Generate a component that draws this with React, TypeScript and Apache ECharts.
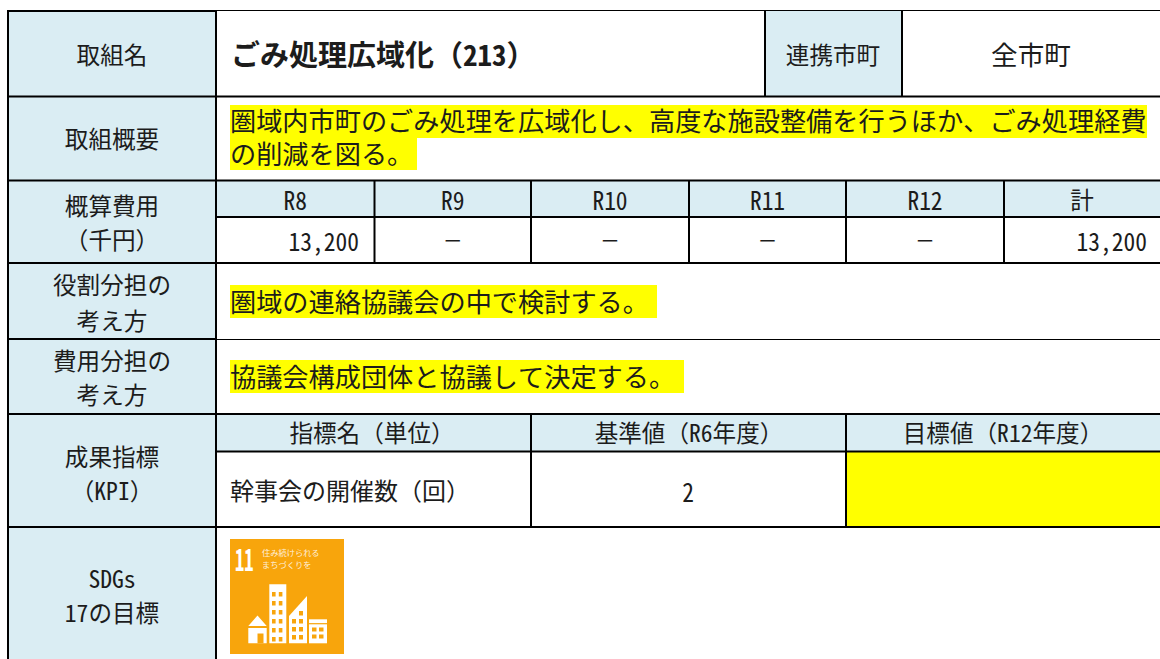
import React, { useEffect, useRef } from "react";
import * as echarts from "echarts";

const FONT = '"Noto Sans Mono CJK JP", "Noto Sans CJK JP", sans-serif';
const INK = "#1c1c1c";
const HEAD = "#daedf3";
const YEL = "#ffff00";
const SDG = "#f8a50c";

const rowLabels = ["取組名", "取組概要"];
const title = "ごみ処理広域化（213）";
const partnerLabel = "連携市町";
const partnerValue = "全市町";
const summaryLines = ["圏域内市町のごみ処理を広域化し、高度な施設整備を行うほか、ごみ処理経費", "の削減を図る。"];
const costLabel = ["概算費用", "（千円）"];
const costYears = ["R8", "R9", "R10", "R11", "R12", "計"];
const costValues = ["13,200", "-", "-", "-", "-", "13,200"];
const roleLabel = ["役割分担の", "考え方"];
const roleText = "圏域の連絡協議会の中で検討する。";
const shareLabel = ["費用分担の", "考え方"];
const shareText = "協議会構成団体と協議して決定する。";
const kpiLabel = ["成果指標", "（KPI）"];
const kpiHeads = ["指標名（単位）", "基準値（R6年度）", "目標値（R12年度）"];
const kpiName = "幹事会の開催数（回）";
const kpiBase = "2";
const sdgLabel = ["SDGs", "17の目標"];
const sdgNum = "11";
const sdgText = ["住み続けられる", "まちづくりを"];

const costCols = [216, 374.5, 531, 689, 846, 1004, 1160];

function t(text: string, x: number, y: number, size: number, o: any = {}) {
  const { align = "center", sx = 1, weight = "normal", fill = INK, opacity } = o;
  return {
    type: "text", x, y, scaleX: sx, z: 10,
    style: { text, fontFamily: FONT, fontSize: size, fontWeight: weight, fill, opacity, textAlign: align, textVerticalAlign: "middle" },
  };
}
function r(x: number, y: number, w: number, h: number, fill: string, z = 1) {
  return { type: "rect", shape: { x, y, width: w, height: h }, style: { fill }, z };
}
function hl(x1: number, y1: number, x2: number, y2: number, w = 2) {
  return { type: "line", shape: { x1, y1, x2, y2 }, style: { stroke: "#000", lineWidth: w }, z: 5 };
}

function icon(): any[] {
  const W = "#ffffff";
  const out: any[] = [];
  out.push(r(230, 539, 114, 115, SDG, 2));
  const a = (e: any) => { e.z = 3; out.push(e); return e; };
  // tower
  a(r(269.3, 584.3, 17, 59, W));
  for (let i = 0; i < 6; i++) for (let j = 0; j < 2; j++) a(r(272 + j * 6.8, 592 + i * 9, 3.6, 4.5, SDG)).z = 4;
  // house
  a({ type: "polygon", shape: { points: [[257.5, 615.6], [248.3, 626], [266.7, 626]] }, style: { fill: W } });
  a(r(248.3, 628, 18.4, 15.3, W));
  a(r(257.5, 633.5, 6, 9.8, SDG)).z = 4;
  // slant building
  a({ type: "polygon", shape: { points: [[289, 616], [307, 596], [307, 643.3], [289, 643.3]] }, style: { fill: W } });
  for (let i = 0; i < 4; i++) for (let j = 0; j < 2; j++) {
    if (i === 0 && j === 0) continue;
    a(r(292 + j * 7, 611 + i * 8, 4, 4.5, SDG)).z = 4;
  }
  // low building
  a(r(309, 619.3, 18, 3.8, W));
  a(r(309, 624.3, 18, 19, W));
  for (let i = 0; i < 2; i++) for (let j = 0; j < 2; j++) a(r(312 + j * 7, 627.5 + i * 7, 4.5, 4, SDG)).z = 4;
  out.push({ ...t(sdgNum, 244.3, 558, 30, { sx: 0.62, weight: "bold", fill: W }), z: 6 });
  out.push({ ...t(sdgText[0], 262, 552.5, 8, { align: "left", sx: 1.03, fill: W, opacity: 0.85 }), z: 6 });
  out.push({ ...t(sdgText[1], 262, 564.5, 8, { align: "left", sx: 1.03, fill: W, opacity: 0.85 }), z: 6 });
  return out;
}

function elements(): any[] {
  const e: any[] = [];
  // fills
  e.push(r(8, 11, 208, 648, HEAD));
  e.push(r(765, 11, 137, 85, HEAD));
  e.push(r(216, 181, 944, 36, HEAD));
  e.push(r(216, 414, 944, 37, HEAD));
  e.push(r(846, 451, 314, 76, YEL));
  e.push(r(230, 105, 917, 33, YEL));
  e.push(r(230, 138, 187, 32, YEL));
  e.push(r(230, 285, 427, 33, YEL));
  e.push(r(230, 360, 454, 33, YEL));
  // rules
  e.push(hl(7, 11, 216, 11, 2));
  e.push(hl(216, 10.5, 1160, 10.5, 1));
  [96.5, 180.5, 263, 414, 527].forEach((y) => e.push(hl(7, y, 1160, y, 2)));
  e.push(hl(7, 339, 216, 339, 2));
  e.push(hl(216, 339.5, 1160, 339.5, 1));
  e.push(hl(216, 217, 1160, 217, 2));
  e.push(hl(216, 451.5, 1160, 451.5, 2));
  e.push(hl(8, 10, 8, 659, 2));
  e.push(hl(216, 10, 216, 659, 2));
  e.push(hl(765, 11, 765, 96, 2));
  e.push(hl(902, 11, 902, 96, 2));
  costCols.slice(1, -1).forEach((x) => e.push(hl(x, 181, x, 263, 2)));
  e.push(hl(531, 414, 531, 527, 2));
  e.push(hl(846, 414, 846, 527, 2));

  // texts
  const L = 23.6, B = 26.2;
  e.push(t(rowLabels[0], 112, 53.5, L));
  e.push(t(title, 231, 52.5, 29, { align: "left", weight: "bold" }));
  e.push(t(partnerLabel, 833, 54, L));
  e.push(t(partnerValue, 1031, 53, 26.6));
  e.push(t(rowLabels[1], 112, 137.5, L));
  e.push(t(summaryLines[0], 230, 119.5, B, { align: "left" }));
  e.push(t(summaryLines[1], 230, 152.5, B, { align: "left" }));
  e.push(t(costLabel[0], 112, 204.5, L));
  e.push(t(costLabel[1], 112, 238.5, L));
  costYears.forEach((s, i) => e.push(t(s, (costCols[i] + costCols[i + 1]) / 2, 199, s === "計" ? L : 25, { sx: s === "計" ? 1 : 0.94 })));
  costValues.forEach((s, i) => {
    if (s === "-") e.push(t("ー", (costCols[i] + costCols[i + 1]) / 2, 240, 18));
    else e.push(t(s, i === 0 ? 359 : 1147, 240, 25.5, { align: "right", sx: 0.92 }));
  });
  e.push(t(roleLabel[0], 112, 284, L));
  e.push(t(roleLabel[1], 112, 320, L));
  e.push(t(roleText, 230, 300.5, B, { align: "left" }));
  e.push(t(shareLabel[0], 112, 360, L));
  e.push(t(shareLabel[1], 112, 394, L));
  e.push(t(shareText, 230, 375.5, B, { align: "left" }));
  e.push(t(kpiLabel[0], 112, 456, L));
  e.push(t(kpiLabel[1], 112, 490, L));
  e.push(t(kpiHeads[0], 372, 431.5, L));
  e.push(t(kpiHeads[1], 689, 431.5, L));
  e.push(t(kpiHeads[2], 1003, 431.5, L));
  e.push(t(kpiName, 230, 489, 24, { align: "left" }));
  e.push(t(kpiBase, 688, 490, 26, { sx: 0.9 }));
  e.push(t(sdgLabel[0], 112, 578, L));
  e.push(t(sdgLabel[1], 112, 612, L));
  return e.concat(icon());
}

export default function App() {
  const ref = useRef<HTMLDivElement>(null);
  useEffect(() => {
    document.body.style.margin = "0";
    const chart = echarts.init(ref.current!, undefined, { renderer: "svg" });
    chart.setOption({ animation: false, backgroundColor: "#ffffff", graphic: { elements: elements() } });
    return () => chart.dispose();
  }, []);
  return <div ref={ref} style={{ width: 1160, height: 659 }} />;
}
